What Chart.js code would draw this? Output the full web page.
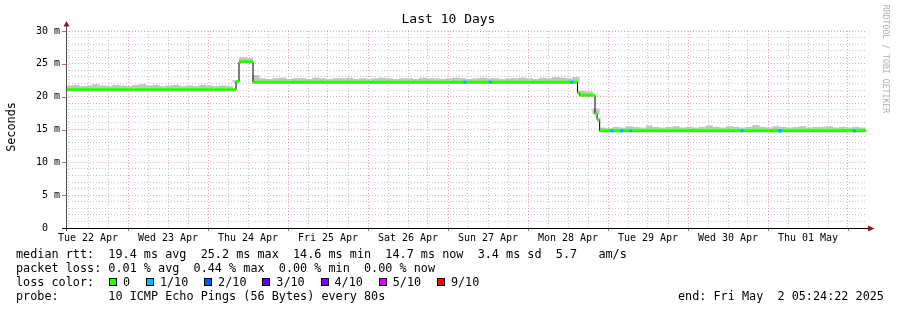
<!DOCTYPE html>
<html><head><meta charset="utf-8">
<script src="https://cdn.jsdelivr.net/npm/chart.js@4.4.1/dist/chart.umd.min.js"></script>
<style>
html,body{margin:0;padding:0;background:#fff;}
#wrap{position:relative;width:897px;height:310px;overflow:hidden;background:#fff;}
canvas{position:absolute;left:0;top:0;}
.t{position:absolute;font-family:'DejaVu Sans Mono',monospace;font-size:11.8px;line-height:14px;white-space:pre;color:#000;}
.box{position:absolute;width:8px;height:8px;box-sizing:border-box;border:1px solid #000;}
</style></head>
<body><div id="wrap"><canvas id="c" width="897" height="310"></canvas></div>
<script>
// ---------- data (hours since Tue 22 Apr 00:00) ----------
const startHour = 5.4;   // Tue 22 Apr 05:24
const endHour = 245.4;   // Fri 02 May 05:24
const dayLabels = ['Tue 22 Apr','Wed 23 Apr','Thu 24 Apr','Fri 25 Apr','Sat 26 Apr','Sun 27 Apr','Mon 28 Apr','Tue 29 Apr','Wed 30 Apr','Thu 01 May'];
const yTickLabels = ['0  ','5 m','10 m','15 m','20 m','25 m','30 m'];

// median rtt (ms): value holds from each start hour until the next
const medianStarts = [5.4, 56.4, 57.3, 61.5, 158.85, 159.5, 164.1, 164.7, 165.5];
const medianValues = [21.05, 22.3, 25.3, 22.2, 20.6, 20.2, 17.4, 16.5, 14.8];

// smoke (ping spread) top in ms, one value per 2-hour bin from 05:24 Tue 22 Apr
const smokeTop = [
  21.7,21.8,21.6,21.7,21.9,21.7,21.6,21.8,21.7,21.6,21.8,21.9,21.7,21.8,21.6,21.7,21.8,21.6,21.7,21.6,21.8,21.7,21.6,21.7,21.6,
  22.5,26.0,25.9,23.3,
  22.8,22.7,22.8,22.9,22.7,22.8,22.8,22.7,22.9,22.8,22.7,22.8,22.8,22.9,22.7,22.8,22.7,22.8,22.9,22.8,
  22.7,22.8,22.8,22.7,22.9,22.8,22.8,22.7,22.8,22.9,22.8,22.7,22.8,22.9,22.8,22.8,22.7,22.8,22.8,22.9,
  22.8,22.7,22.9,22.8,23.0,22.9,22.8,23.0,
  20.9,20.8,18.2,
  15.3,15.2,15.4,15.3,15.5,15.4,15.3,15.6,15.4,15.3,15.4,15.5,15.3,15.4,15.3,15.4,15.6,15.4,15.3,15.5,
  15.4,15.3,15.4,15.7,15.4,15.3,15.5,15.4,15.3,15.4,15.5,15.3,15.4,15.4,15.5,15.3,15.4,15.3,15.4,15.3
];
const smokeBinHours = 2;

// packet-loss events (hours) and their loss level index
const lossTimes = [125.1, 132.6, 157.1, 169.2, 172.1, 174.8, 208.2, 219.4, 219.8, 241.9];
const lossLevels = [1, 1, 1, 1, 1, 1, 1, 1, 1, 1];

const lossLabels = ['0','1/10','2/10','3/10','4/10','5/10','9/10'];
const lossColors = ['#26ff00','#00b8ff','#0059ff','#5e00ff','#7e00ff','#dd00ff','#ff0000'];

const medianStats = ['19.4 ms avg','25.2 ms max','14.6 ms min','14.7 ms now','3.4 ms sd','5.7   am/s'];
const lossStats = ['0.01 % avg','0.44 % max','0.00 % min','0.00 % now'];
const probeText = '10 ICMP Echo Pings (56 Bytes) every 80s';
const endText = 'end: Fri May  2 05:24:22 2025';
const titleText = 'Last 10 Days';
const yAxisTitle = 'Seconds';
const watermark = 'RRDTOOL / TOBI OETIKER';

// ---------- build datasets ----------
function medianAt(t){ let v = medianValues[0]; for(let i=0;i<medianStarts.length;i++){ if(medianStarts[i] <= t) v = medianValues[i]; } return v; }
const stepPts = medianStarts.map((s,i)=>({x:s,y:medianValues[i]}));
stepPts.push({x:endHour,y:medianValues[medianValues.length-1]});
const greenPts = [];
medianStarts.forEach((s,i)=>{
  const e = i+1 < medianStarts.length ? medianStarts[i+1] : endHour;
  greenPts.push({x:s,y:medianValues[i]},{x:e,y:medianValues[i]},{x:e,y:null});
});
const smokePts = smokeTop.map((top,i)=>{
  const c = startHour + smokeBinHours*(i+0.5);
  return {x:c, y:[medianAt(c)-0.1, top]};
});
const lossPts = lossTimes.map(t=>({x:t,y:medianAt(t)}));

const RED = 'rgba(225,90,90,0.55)';
const GREY = 'rgba(150,150,150,0.55)';
const MONO = "'DejaVu Sans Mono', monospace";

const axesPlugin = {
  id:'rrdAxes',
  afterDraw(c){
    const {ctx, chartArea:a, scales:{x,y}} = c;
    ctx.save();
    ctx.lineWidth = 1;
    ctx.strokeStyle = 'rgba(200,60,60,0.8)';
    for(let v=0; v<=30; v+=5){
      const py = Math.round(y.getPixelForValue(v))+0.5;
      ctx.beginPath(); ctx.moveTo(62,py); ctx.lineTo(a.left,py); ctx.stroke();
    }
    for(let h=24; h<endHour; h+=24){
      const px = Math.round(x.getPixelForValue(h))+0.5;
      ctx.beginPath(); ctx.moveTo(px,a.bottom); ctx.lineTo(px,a.bottom+3); ctx.stroke();
    }
    const ax = a.left+0.5, ay = Math.round(a.bottom)+0.5;
    ctx.strokeStyle = '#505050';
    ctx.beginPath(); ctx.moveTo(ax, a.bottom+3); ctx.lineTo(ax, 25); ctx.stroke();
    ctx.strokeStyle = '#000';
    ctx.beginPath(); ctx.moveTo(62, ay); ctx.lineTo(869, ay); ctx.stroke();
    ctx.fillStyle = '#8b1a1a';
    ctx.beginPath(); ctx.moveTo(ax,21); ctx.lineTo(ax-3,26.5); ctx.lineTo(ax+3,26.5); ctx.closePath(); ctx.fill();
    ctx.beginPath(); ctx.moveTo(874.5,ay); ctx.lineTo(868,ay-3); ctx.lineTo(868,ay+3); ctx.closePath(); ctx.fill();
    ctx.restore();
  }
};

new Chart(document.getElementById('c'), {
  type:'bar',
  data:{datasets:[
    {type:'line', label:'loss', data:lossPts, showLine:false, pointStyle:'rect', pointRadius:2.2, pointBorderWidth:0,
     pointBackgroundColor: lossLevels.map(l=>lossColors[l]), order:1},
    {type:'line', label:'median', data:greenPts, borderColor:lossColors[0], borderWidth:3, borderCapStyle:'butt',
     pointRadius:0, spanGaps:false, order:2},
    {type:'line', label:'step', data:stepPts, stepped:true, borderColor:'#000', borderWidth:1, pointRadius:0, order:3},
    {type:'bar', label:'smoke', data:smokePts, backgroundColor:'#c4c4c4', borderWidth:0,
     barPercentage:1.08, categoryPercentage:1, order:4}
  ]},
  options:{
    responsive:false, animation:false, events:[],
    layout:{padding:{left:0, top:31, right:31, bottom:0}},
    plugins:{legend:{display:false}, title:{display:false}, tooltip:{enabled:false}},
    scales:{
      x:{type:'linear', min:startHour, max:endHour, offset:false,
        afterBuildTicks(s){ const t=[]; for(let h=6; h<endHour; h+=6) t.push({value:h}); s.ticks=t; },
        afterFit(s){ s.height = 82; },
        grid:{offset:false, drawTicks:false, lineWidth:1,
          color:ctx=> (ctx.tick && ctx.tick.value % 24 === 0) ? RED : GREY},
        border:{display:false, dash:[1,2]},
        ticks:{autoSkip:false, maxRotation:0, minRotation:0, padding:4, color:'#000',
          font:{family:MONO, size:10},
          callback:v=> (v % 24 === 12) ? dayLabels[(v-12)/24] : ''}
      },
      y:{min:0, max:30,
        afterBuildTicks(s){ const t=[]; for(let v=0; v<=30; v++) t.push({value:v}); s.ticks=t; },
        afterFit(s){ s.width = 66; },
        grid:{drawTicks:false, lineWidth:1,
          color:ctx=> (ctx.tick && ctx.tick.value % 5 === 0) ? RED : GREY},
        border:{display:false, dash:[1,2]},
        ticks:{autoSkip:false, padding:6, color:'#000', font:{family:MONO, size:10},
          callback:v=> (v % 5 === 0) ? yTickLabels[v/5] : ''}
      }
    }
  },
  plugins:[axesPlugin]
});

// ---------- text overlay ----------
const wrap = document.getElementById('wrap');
function addText(txt, left, top, extra){
  const d = document.createElement('div'); d.className='t'; d.textContent = txt;
  d.style.left = left+'px'; d.style.top = top+'px';
  if(extra) Object.assign(d.style, extra);
  wrap.appendChild(d); return d;
}
addText(titleText, 0, 11, {width:'897px', textAlign:'center', fontSize:'13px', lineHeight:'16px'});
addText(yAxisTitle, -19, 120, {width:'60px', textAlign:'center', transform:'rotate(-90deg)'});
addText(watermark, 826, 53, {width:'120px', textAlign:'center', fontSize:'8.2px', lineHeight:'12px', color:'#b0b0b0', transform:'rotate(90deg)'});
addText('median rtt:  ' + medianStats.join('  '), 16, 247);
addText('packet loss: ' + lossStats.join('  '), 16, 261);
addText('loss color:', 16, 275);
let pos = 109;
lossLabels.forEach((lab,i)=>{
  const b = document.createElement('div'); b.className='box';
  b.style.left = pos+'px'; b.style.top = '278px'; b.style.background = lossColors[i];
  wrap.appendChild(b);
  addText(lab, pos+14, 275);
  pos = pos + 14 + lab.length*7.1 + 15.8;
});
addText('probe:       ' + probeText, 16, 289);
addText(endText, 678, 289);
</script>
</body></html>
